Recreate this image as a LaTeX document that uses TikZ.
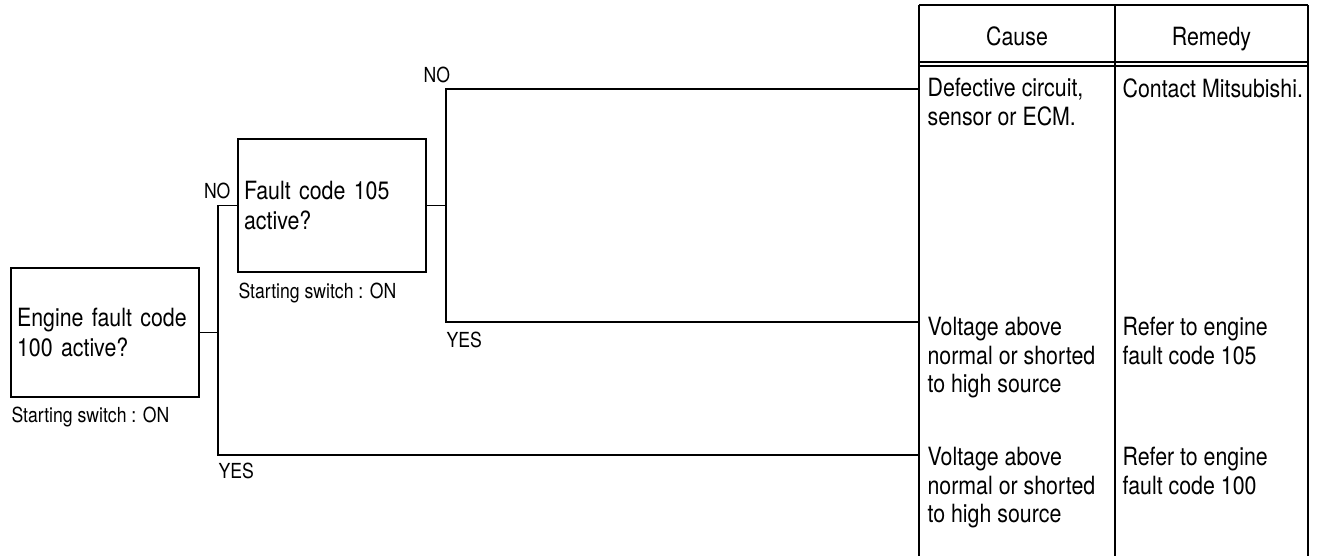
\documentclass[tikz,border=0pt]{standalone}
\usepackage{fontspec}
\setmainfont{TeX Gyre Heros}[FakeStretch=0.85]
\tikzset{
  qbox/.style={draw, align=left, inner xsep=0.12cm, text width=3.52cm,
    minimum width=3.76cm, font=\fontsize{14.3}{17}\selectfont},
  note/.style={inner sep=0pt, font=\fontsize{11.8}{13}\selectfont},
  cell/.style={inner sep=0pt, align=left, anchor=north west,
    font=\fontsize{14.3}{16.2}\selectfont},
}
\begin{document}
\begin{tikzpicture}[x=0.02cm, y=-0.02cm, line width=0.65pt]
\useasboundingbox (0,0) rectangle (1317,556);
% question boxes
\node [qbox, minimum height=2.58cm] (q1) at (105,332.5) {Engine fault code\\100 active?};
\node [qbox, minimum height=2.66cm] (q2) at (332,205.5) {Fault code 105\\active?};
\node [note, anchor=base west] (s1) at (11,422) {Starting switch : ON};
\node [note, anchor=base west] (s2) at (238,298) {Starting switch : ON};
%
% table
\coordinate (r1) at (919,89);
\coordinate (r2) at (919,322);
\coordinate (r3) at (919,455);
\draw (919,5) -- (1308,5) (919,62) -- (1308,62) (919,66) -- (1308,66);
\foreach \x in {919,1115,1308}
  \draw (\x,5) -- (\x,556);
\node [cell, anchor=base] (hc) at (1017,45) {Cause};
\node [cell, anchor=base] (hr) at (1211.5,45) {Remedy};
\node [cell] (c1) at (927,78) {Defective circuit,\\sensor or ECM.};
\node [cell] (m1) at (1122,78) {Contact Mitsubishi.};
\node [cell] (c2) at (927,317) {Voltage above\\normal or shorted\\to high source};
\node [cell] (m2) at (1122,317) {Refer to engine\\fault code 105};
\node [cell] (c3) at (927,447) {Voltage above\\normal or shorted\\to high source};
\node [cell] (m3) at (1122,447) {Refer to engine\\fault code 100};
%
% branches
\coordinate (j1) at (218,0);
\coordinate (j2) at (446,0);
\draw (q1.east) -- (q1.east -| j1);
\draw (q2.west) -| (j1 |- r3) -- (r3);
\draw (q2.east) -- (q2.east -| j2);
\draw (r1) -| (j2 |- r2) -- (r2);
\node [note, anchor=base east] (no1) at (231,198) {NO};
\node [note, anchor=base west] (yes1) at (218,478) {YES};
\node [note, anchor=base west] (no2) at (423,82) {NO};
\node [note, anchor=base west] (yes2) at (446,347) {YES};
\end{tikzpicture}
\end{document}
